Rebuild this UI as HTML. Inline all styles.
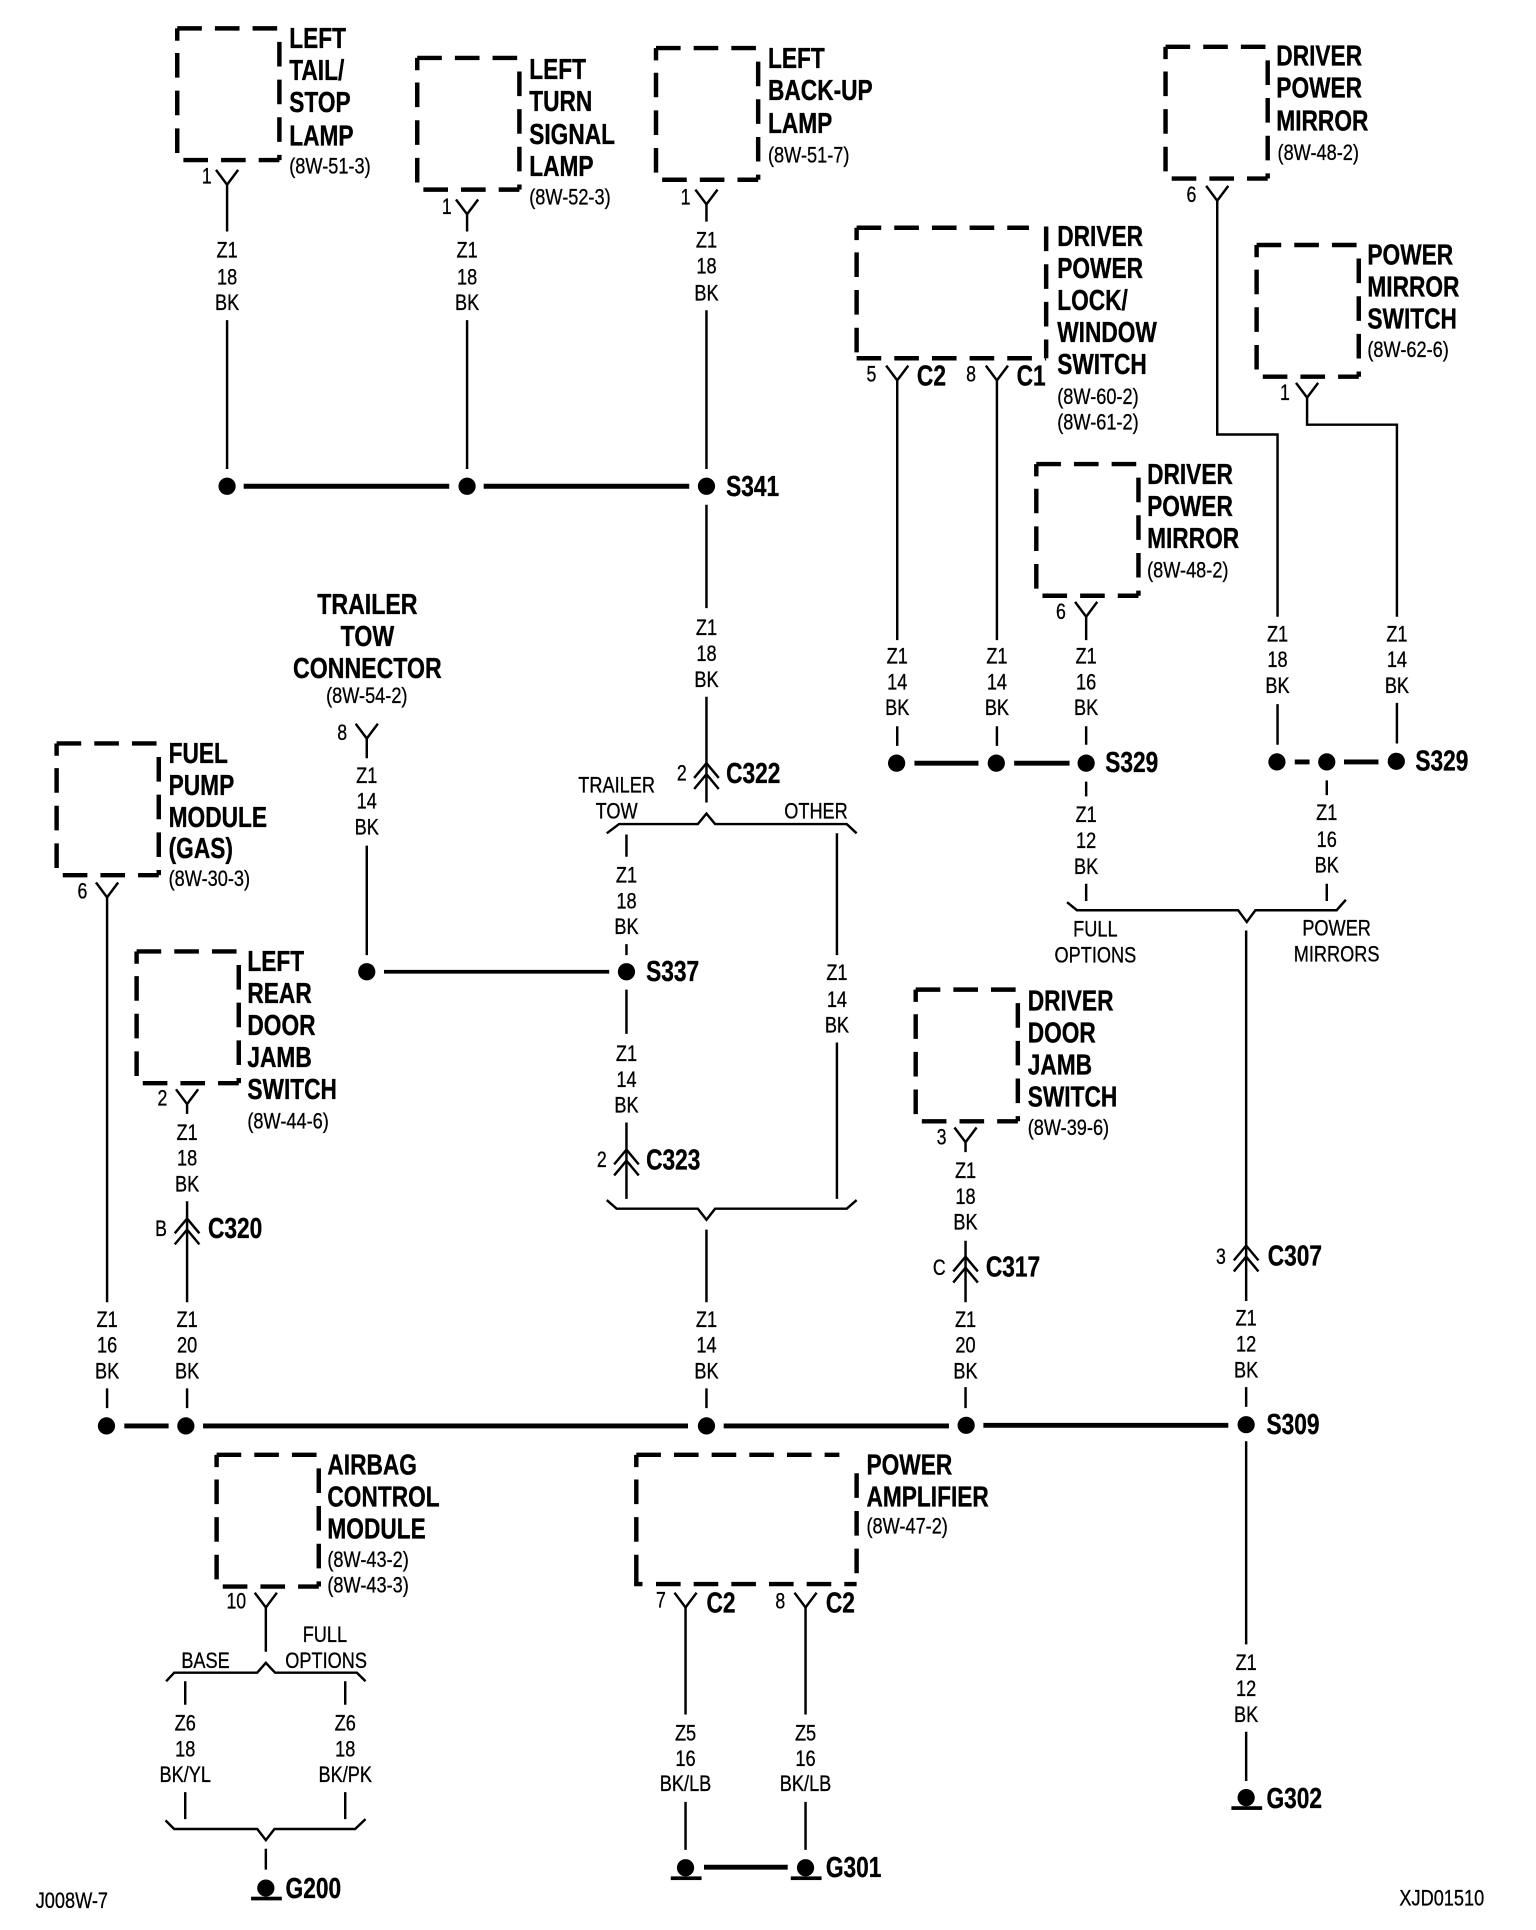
<!DOCTYPE html>
<html><head><meta charset="utf-8"><title>Wiring diagram</title>
<style>
html,body{margin:0;padding:0;background:#fff}
svg{display:block}
text{font-family:"Liberation Sans",sans-serif;fill:#000;stroke:#000}
.b{font-weight:700;font-size:23.5px;stroke-width:.3}
.s{font-size:18px;stroke-width:.25}
.c{text-anchor:middle}
.w{fill:none;stroke:#000;stroke-width:2}
.t{fill:none;stroke:#000;stroke-width:4}
.d{fill:none;stroke:#000;stroke-width:3.6;stroke-dasharray:20 10.6}
</style></head><body>
<svg xmlns="http://www.w3.org/2000/svg" width="1536" height="1930" viewBox="0 0 1248 1568">
<defs>
<path id="bx" class="d" d="M0 0H83M0 0V10M0 20V105M83 11V107M5 107H83"/>
<path id="y" class="w" d="M-9-12L0 0L9-12"/>
<path id="ch" class="w" d="M-10 12L0 0L10 12M-10 21L0 9L10 21"/>
<g id="gr"><circle r="7"/><rect x="-12" y="7" width="25" height="3"/></g>
</defs>
<rect width="1248" height="1568" fill="#fff"/>

<!-- boxes -->
<use href="#bx" x="144" y="23"/>
<use href="#bx" x="339" y="47"/>
<use href="#bx" x="533" y="39"/>
<use href="#bx" x="947" y="38"/>
<use href="#bx" x="1021" y="199"/>
<use href="#bx" x="842" y="377"/>
<use href="#bx" x="46" y="604"/>
<use href="#bx" x="111" y="773"/>
<use href="#bx" x="744" y="804"/>
<use href="#bx" x="176" y="1182"/>
<path class="d" d="M696 185H836M696 185V195M696 205V291M850 184V291M696 291H850"/>
<path class="d" d="M517 1182H682M517 1182V1192M517 1202V1282M696 1197V1287M533 1287H696M517 1276V1287H522"/>

<!-- connectors Y -->
<use href="#y" x="184.500" y="150"/>
<use href="#y" x="379.500" y="174"/>
<use href="#y" x="574" y="166"/>
<use href="#y" x="989" y="163"/>
<use href="#y" x="729" y="309"/>
<use href="#y" x="810" y="309"/>
<use href="#y" x="1062" y="323"/>
<use href="#y" x="882.500" y="501"/>
<use href="#y" x="298" y="600"/>
<use href="#y" x="87" y="729"/>
<use href="#y" x="152" y="897"/>
<use href="#y" x="784.500" y="928"/>
<use href="#y" x="216" y="1306"/>
<use href="#y" x="557" y="1306"/>
<use href="#y" x="654.500" y="1306"/>

<!-- chevrons -->
<use href="#ch" x="574" y="620"/>
<use href="#ch" x="509" y="934"/>
<use href="#ch" x="152" y="990"/>
<use href="#ch" x="784.500" y="1021"/>
<use href="#ch" x="1012.500" y="1012"/>

<!-- thin wires -->
<path class="w" d="M184.500 150V188M184.500 260V381M379.500 174V188M379.500 260V381M574 166V180M574 252V381M574 410V494M574 566V652
M729 309V520M729 590V606M810 309V520M810 590V606M882.500 501V520M882.500 590V605M882.500 635V647M882.500 718V732
M989 163V353H1038V501M1038 572V605M1062 323V345H1135V501M1135 571V604M1078 634V646M1078 718V732
M298 600V616M298 687V776M509 678V696M509 767V776M509 804V840M509 912V974M680 677V776M680 847V974
M574 999V1058M574 1128V1144M87 729V1058M87 1128V1144M152 897V905M152 976V1058M152 1128V1144
M784.500 928V936M784.500 1008V1058M784.500 1127V1144M1012.500 756V1057M1012.500 1127V1143M1012.500 1171V1336M1012.500 1407V1447
M216 1306V1342M150.500 1366V1385M150.500 1456V1478M280.500 1366V1385M280.500 1456V1478M216 1502V1519
M557 1306V1393M557 1464V1503M654.500 1306V1393M654.500 1464V1503"/>

<!-- braces -->
<path class="w" d="M493 677L503 669.500H567L574 661L581 669.500H688L696 677"/>
<path class="w" d="M493 975L501 982H567L574 991L581 982H688L696 975"/>
<path class="w" d="M867 733L875 739.500H1006L1013 749L1020 739.500H1086L1093.500 731"/>
<path class="w" d="M135 1366L141.500 1359H209L216 1351L223.500 1359H290L297 1366"/>
<path class="w" d="M134.500 1479L141.500 1486H209L216 1495L223 1486H288.500L297 1478"/>

<!-- thick wires -->
<path class="t" d="M198 395H365M393 395H560M743 620H795M824 620H869M1052 619H1064M1092 619H1120M101 1158.500H137M165 1158.500H559M588 1158.500H771M799 1158H998M572 1517H640"/>
<path class="w" style="stroke-width:3" d="M312 789.500H495"/>

<!-- dots -->
<circle cx="184.500" cy="395" r="7"/><circle cx="379.500" cy="395" r="7"/><circle cx="574" cy="395" r="7"/>
<circle cx="728.500" cy="620" r="7"/><circle cx="809.500" cy="620" r="7"/><circle cx="882.500" cy="620" r="7"/>
<circle cx="1037.500" cy="619" r="7"/><circle cx="1078" cy="619" r="7"/><circle cx="1134.500" cy="618.500" r="7"/>
<circle cx="298" cy="789.500" r="7"/><circle cx="509" cy="789.500" r="7"/>
<circle cx="86.500" cy="1158.500" r="7"/><circle cx="151" cy="1158.500" r="7"/><circle cx="574" cy="1158.500" r="7"/><circle cx="785" cy="1158" r="7"/><circle cx="1012.500" cy="1157.500" r="7"/>

<!-- grounds -->
<use href="#gr" x="216" y="1534"/>
<use href="#gr" x="557" y="1517.500"/>
<use href="#gr" x="654.500" y="1517.500"/>
<use href="#gr" x="1012.500" y="1460.500"/>

<g transform="translate(0,-1)">
<!-- bold labels -->
<g class="b">
<text transform="matrix(.785 0 0 1 235 40)">LEFT</text>
<text transform="matrix(.785 0 0 1 235 66)">TAIL/</text>
<text transform="matrix(.785 0 0 1 235 92)">STOP</text>
<text transform="matrix(.785 0 0 1 235 119)">LAMP</text>
<text transform="matrix(.785 0 0 1 430 65)">LEFT</text>
<text transform="matrix(.785 0 0 1 430 91)">TURN</text>
<text transform="matrix(.785 0 0 1 430 118)">SIGNAL</text>
<text transform="matrix(.785 0 0 1 430 144)">LAMP</text>
<text transform="matrix(.785 0 0 1 624 56)">LEFT</text>
<text transform="matrix(.785 0 0 1 624 82)">BACK-UP</text>
<text transform="matrix(.785 0 0 1 624 109)">LAMP</text>
<text transform="matrix(.785 0 0 1 1037 54)">DRIVER</text>
<text transform="matrix(.785 0 0 1 1037 80)">POWER</text>
<text transform="matrix(.785 0 0 1 1037 107)">MIRROR</text>
<text transform="matrix(.785 0 0 1 1111 216)">POWER</text>
<text transform="matrix(.785 0 0 1 1111 242)">MIRROR</text>
<text transform="matrix(.785 0 0 1 1111 268)">SWITCH</text>
<text transform="matrix(.785 0 0 1 859 201)">DRIVER</text>
<text transform="matrix(.785 0 0 1 859 227)">POWER</text>
<text transform="matrix(.785 0 0 1 859 253)">LOCK/</text>
<text transform="matrix(.785 0 0 1 859 279)">WINDOW</text>
<text transform="matrix(.785 0 0 1 859 305)">SWITCH</text>
<text transform="matrix(.785 0 0 1 932 394)">DRIVER</text>
<text transform="matrix(.785 0 0 1 932 420)">POWER</text>
<text transform="matrix(.785 0 0 1 932 446)">MIRROR</text>
<text class="c" transform="matrix(.8 0 0 1 298.500 500)">TRAILER</text>
<text class="c" transform="matrix(.8 0 0 1 298.500 526)">TOW</text>
<text class="c" transform="matrix(.8 0 0 1 298.500 552)">CONNECTOR</text>
<text transform="matrix(.785 0 0 1 137 621)">FUEL</text>
<text transform="matrix(.785 0 0 1 137 647)">PUMP</text>
<text transform="matrix(.785 0 0 1 137 673)">MODULE</text>
<text transform="matrix(.785 0 0 1 137 698)">(GAS)</text>
<text transform="matrix(.785 0 0 1 201 790)">LEFT</text>
<text transform="matrix(.785 0 0 1 201 816)">REAR</text>
<text transform="matrix(.785 0 0 1 201 842)">DOOR</text>
<text transform="matrix(.785 0 0 1 201 868)">JAMB</text>
<text transform="matrix(.785 0 0 1 201 894)">SWITCH</text>
<text transform="matrix(.785 0 0 1 835 822)">DRIVER</text>
<text transform="matrix(.785 0 0 1 835 848)">DOOR</text>
<text transform="matrix(.785 0 0 1 835 874)">JAMB</text>
<text transform="matrix(.785 0 0 1 835 900)">SWITCH</text>
<text transform="matrix(.785 0 0 1 266 1199)">AIRBAG</text>
<text transform="matrix(.785 0 0 1 266 1225)">CONTROL</text>
<text transform="matrix(.785 0 0 1 266 1251)">MODULE</text>
<text transform="matrix(.785 0 0 1 704 1199)">POWER</text>
<text transform="matrix(.785 0 0 1 704 1225)">AMPLIFIER</text>
<text transform="matrix(.785 0 0 1 590 404)">S341</text>
<text transform="matrix(.785 0 0 1 590 637)">C322</text>
<text transform="matrix(.785 0 0 1 525 798)">S337</text>
<text transform="matrix(.785 0 0 1 525 951)">C323</text>
<text transform="matrix(.785 0 0 1 169 1007)">C320</text>
<text transform="matrix(.785 0 0 1 801 1038)">C317</text>
<text transform="matrix(.785 0 0 1 1030 1029)">C307</text>
<text transform="matrix(.785 0 0 1 1029 1166)">S309</text>
<text transform="matrix(.785 0 0 1 898 628)">S329</text>
<text transform="matrix(.785 0 0 1 1150 627)">S329</text>
<text transform="matrix(.785 0 0 1 745 314)">C2</text>
<text transform="matrix(.785 0 0 1 826 314)">C1</text>
<text transform="matrix(.785 0 0 1 574 1311)">C2</text>
<text transform="matrix(.785 0 0 1 671 1311)">C2</text>
<text transform="matrix(.785 0 0 1 232 1543)">G200</text>
<text transform="matrix(.785 0 0 1 671 1526)">G301</text>
<text transform="matrix(.785 0 0 1 1029 1470)">G302</text>
</g>

<!-- small labels -->
<g class="s">
<text transform="matrix(.82 0 0 1 235 142)">(8W-51-3)</text>
<text transform="matrix(.82 0 0 1 430 167)">(8W-52-3)</text>
<text transform="matrix(.82 0 0 1 624 133)">(8W-51-7)</text>
<text transform="matrix(.82 0 0 1 1038 131)">(8W-48-2)</text>
<text transform="matrix(.82 0 0 1 1111 291)">(8W-62-6)</text>
<text transform="matrix(.82 0 0 1 859 329)">(8W-60-2)</text>
<text transform="matrix(.82 0 0 1 859 350)">(8W-61-2)</text>
<text transform="matrix(.82 0 0 1 932 470)">(8W-48-2)</text>
<text class="c" transform="matrix(.82 0 0 1 298 572)">(8W-54-2)</text>
<text transform="matrix(.82 0 0 1 137 721)">(8W-30-3)</text>
<text transform="matrix(.82 0 0 1 201 918)">(8W-44-6)</text>
<text transform="matrix(.82 0 0 1 835 923)">(8W-39-6)</text>
<text transform="matrix(.82 0 0 1 266 1274)">(8W-43-2)</text>
<text transform="matrix(.82 0 0 1 266 1295)">(8W-43-3)</text>
<text transform="matrix(.82 0 0 1 704 1247)">(8W-47-2)</text>

<text transform="matrix(.8 0 0 1 164 150)">1</text>
<text transform="matrix(.8 0 0 1 359 175)">1</text>
<text transform="matrix(.8 0 0 1 553 167)">1</text>
<text transform="matrix(.8 0 0 1 964 165)">6</text>
<text transform="matrix(.8 0 0 1 704 311)">5</text>
<text transform="matrix(.8 0 0 1 785 311)">8</text>
<text transform="matrix(.8 0 0 1 1040 326)">1</text>
<text transform="matrix(.8 0 0 1 858 504)">6</text>
<text transform="matrix(.8 0 0 1 274 602)">8</text>
<text transform="matrix(.8 0 0 1 63 731)">6</text>
<text transform="matrix(.8 0 0 1 128 899)">2</text>
<text transform="matrix(.8 0 0 1 761 931)">3</text>
<text transform="matrix(.8 0 0 1 550 635)">2</text>
<text transform="matrix(.8 0 0 1 485 949)">2</text>
<text transform="matrix(.8 0 0 1 126 1005)">B</text>
<text transform="matrix(.8 0 0 1 758 1037)">C</text>
<text transform="matrix(.8 0 0 1 988 1028)">3</text>
<text transform="matrix(.8 0 0 1 184 1308)">10</text>
<text transform="matrix(.8 0 0 1 533 1307)">7</text>
<text transform="matrix(.8 0 0 1 630 1308)">8</text>

<text class="c" transform="matrix(.82 0 0 1 501 645)">TRAILER</text>
<text class="c" transform="matrix(.82 0 0 1 501 666)">TOW</text>
<text class="c" transform="matrix(.82 0 0 1 663 666)">OTHER</text>
<text class="c" transform="matrix(.82 0 0 1 890 762)">FULL</text>
<text class="c" transform="matrix(.82 0 0 1 890 783)">OPTIONS</text>
<text class="c" transform="matrix(.82 0 0 1 1086 761)">POWER</text>
<text class="c" transform="matrix(.82 0 0 1 1086 782)">MIRRORS</text>
<text class="c" transform="matrix(.82 0 0 1 167 1356)">BASE</text>
<text class="c" transform="matrix(.82 0 0 1 264 1335)">FULL</text>
<text class="c" transform="matrix(.82 0 0 1 265 1356)">OPTIONS</text>
<text transform="matrix(.82 0 0 1 29 1551)">J008W-7</text>
<text transform="matrix(.82 0 0 1 1137 1549)">XJD01510</text>

<text class="c" transform="matrix(.82 0 0 1 184.500 210)">Z1</text><text class="c" transform="matrix(.82 0 0 1 184.500 232)">18</text><text class="c" transform="matrix(.82 0 0 1 184.500 253)">BK</text>
<text class="c" transform="matrix(.82 0 0 1 379.500 210)">Z1</text><text class="c" transform="matrix(.82 0 0 1 379.500 232)">18</text><text class="c" transform="matrix(.82 0 0 1 379.500 253)">BK</text>
<text class="c" transform="matrix(.82 0 0 1 574 202)">Z1</text><text class="c" transform="matrix(.82 0 0 1 574 223)">18</text><text class="c" transform="matrix(.82 0 0 1 574 245)">BK</text>
<text class="c" transform="matrix(.82 0 0 1 574 517)">Z1</text><text class="c" transform="matrix(.82 0 0 1 574 538)">18</text><text class="c" transform="matrix(.82 0 0 1 574 559)">BK</text>
<text class="c" transform="matrix(.82 0 0 1 729 540)">Z1</text><text class="c" transform="matrix(.82 0 0 1 729 561)">14</text><text class="c" transform="matrix(.82 0 0 1 729 582)">BK</text>
<text class="c" transform="matrix(.82 0 0 1 810 540)">Z1</text><text class="c" transform="matrix(.82 0 0 1 810 561)">14</text><text class="c" transform="matrix(.82 0 0 1 810 582)">BK</text>
<text class="c" transform="matrix(.82 0 0 1 882.500 540)">Z1</text><text class="c" transform="matrix(.82 0 0 1 882.500 561)">16</text><text class="c" transform="matrix(.82 0 0 1 882.500 582)">BK</text>
<text class="c" transform="matrix(.82 0 0 1 882.500 669)">Z1</text><text class="c" transform="matrix(.82 0 0 1 882.500 690)">12</text><text class="c" transform="matrix(.82 0 0 1 882.500 711)">BK</text>
<text class="c" transform="matrix(.82 0 0 1 1038 522)">Z1</text><text class="c" transform="matrix(.82 0 0 1 1038 543)">18</text><text class="c" transform="matrix(.82 0 0 1 1038 564)">BK</text>
<text class="c" transform="matrix(.82 0 0 1 1135 522)">Z1</text><text class="c" transform="matrix(.82 0 0 1 1135 543)">14</text><text class="c" transform="matrix(.82 0 0 1 1135 564)">BK</text>
<text class="c" transform="matrix(.82 0 0 1 1078 667)">Z1</text><text class="c" transform="matrix(.82 0 0 1 1078 689)">16</text><text class="c" transform="matrix(.82 0 0 1 1078 710)">BK</text>
<text class="c" transform="matrix(.82 0 0 1 298 637)">Z1</text><text class="c" transform="matrix(.82 0 0 1 298 658)">14</text><text class="c" transform="matrix(.82 0 0 1 298 679)">BK</text>
<text class="c" transform="matrix(.82 0 0 1 509 718)">Z1</text><text class="c" transform="matrix(.82 0 0 1 509 739)">18</text><text class="c" transform="matrix(.82 0 0 1 509 760)">BK</text>
<text class="c" transform="matrix(.82 0 0 1 509 863)">Z1</text><text class="c" transform="matrix(.82 0 0 1 509 884)">14</text><text class="c" transform="matrix(.82 0 0 1 509 905)">BK</text>
<text class="c" transform="matrix(.82 0 0 1 680 797)">Z1</text><text class="c" transform="matrix(.82 0 0 1 680 819)">14</text><text class="c" transform="matrix(.82 0 0 1 680 840)">BK</text>
<text class="c" transform="matrix(.82 0 0 1 152 927)">Z1</text><text class="c" transform="matrix(.82 0 0 1 152 948)">18</text><text class="c" transform="matrix(.82 0 0 1 152 969)">BK</text>
<text class="c" transform="matrix(.82 0 0 1 784.500 958)">Z1</text><text class="c" transform="matrix(.82 0 0 1 784.500 979)">18</text><text class="c" transform="matrix(.82 0 0 1 784.500 1000)">BK</text>
<text class="c" transform="matrix(.82 0 0 1 87 1079)">Z1</text><text class="c" transform="matrix(.82 0 0 1 87 1100)">16</text><text class="c" transform="matrix(.82 0 0 1 87 1121)">BK</text>
<text class="c" transform="matrix(.82 0 0 1 152 1079)">Z1</text><text class="c" transform="matrix(.82 0 0 1 152 1100)">20</text><text class="c" transform="matrix(.82 0 0 1 152 1121)">BK</text>
<text class="c" transform="matrix(.82 0 0 1 574 1079)">Z1</text><text class="c" transform="matrix(.82 0 0 1 574 1100)">14</text><text class="c" transform="matrix(.82 0 0 1 574 1121)">BK</text>
<text class="c" transform="matrix(.82 0 0 1 784.500 1079)">Z1</text><text class="c" transform="matrix(.82 0 0 1 784.500 1100)">20</text><text class="c" transform="matrix(.82 0 0 1 784.500 1121)">BK</text>
<text class="c" transform="matrix(.82 0 0 1 1012.500 1078)">Z1</text><text class="c" transform="matrix(.82 0 0 1 1012.500 1099)">12</text><text class="c" transform="matrix(.82 0 0 1 1012.500 1120)">BK</text>
<text class="c" transform="matrix(.82 0 0 1 1012.500 1358)">Z1</text><text class="c" transform="matrix(.82 0 0 1 1012.500 1379)">12</text><text class="c" transform="matrix(.82 0 0 1 1012.500 1400)">BK</text>
<text class="c" transform="matrix(.82 0 0 1 150.500 1407)">Z6</text><text class="c" transform="matrix(.82 0 0 1 150.500 1428)">18</text><text class="c" transform="matrix(.82 0 0 1 150.500 1449)">BK/YL</text>
<text class="c" transform="matrix(.82 0 0 1 280.500 1407)">Z6</text><text class="c" transform="matrix(.82 0 0 1 280.500 1428)">18</text><text class="c" transform="matrix(.82 0 0 1 280.500 1449)">BK/PK</text>
<text class="c" transform="matrix(.82 0 0 1 557 1415)">Z5</text><text class="c" transform="matrix(.82 0 0 1 557 1436)">16</text><text class="c" transform="matrix(.82 0 0 1 557 1456)">BK/LB</text>
<text class="c" transform="matrix(.82 0 0 1 654.500 1415)">Z5</text><text class="c" transform="matrix(.82 0 0 1 654.500 1436)">16</text><text class="c" transform="matrix(.82 0 0 1 654.500 1456)">BK/LB</text>
</g>
</g>
</svg>
</body></html>
